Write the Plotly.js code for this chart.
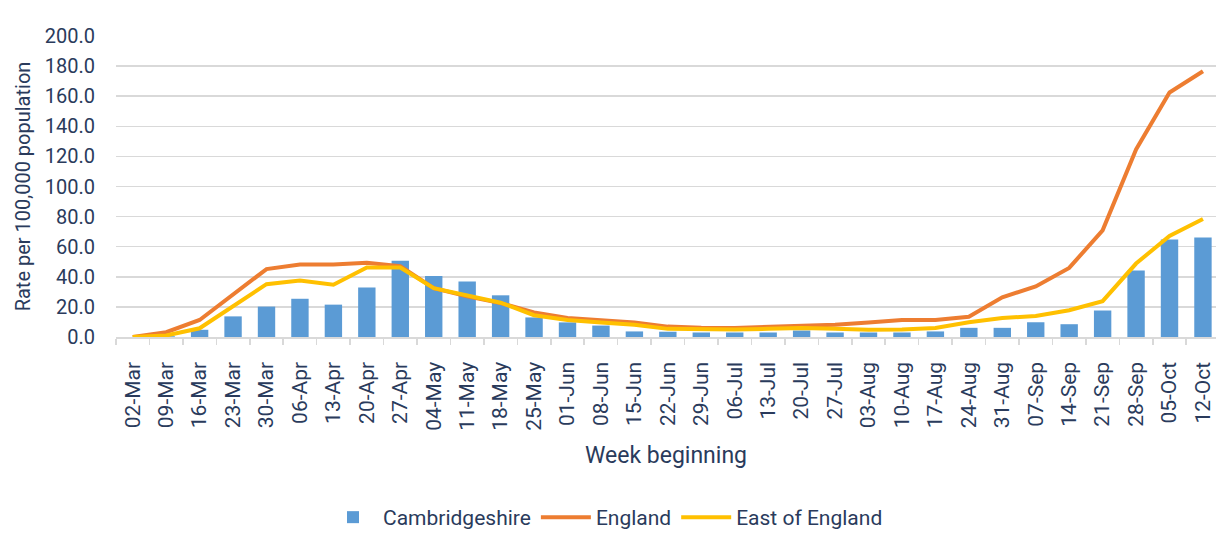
<!DOCTYPE html>
<html>
<head>
<meta charset="utf-8">
<script src="https://cdn.plot.ly/plotly-3.0.1.min.js"></script>
<style>html,body{margin:0;padding:0;background:#fff;}#chart{width:1216px;height:538px;}</style>
</head>
<body>
<div id="chart"></div>
<script>
const weeks = ['02-Mar','09-Mar','16-Mar','23-Mar','30-Mar','06-Apr','13-Apr','20-Apr','27-Apr','04-May','11-May','18-May','25-May','01-Jun','08-Jun','15-Jun','22-Jun','29-Jun','06-Jul','13-Jul','20-Jul','27-Jul','03-Aug','10-Aug','17-Aug','24-Aug','31-Aug','07-Sep','14-Sep','21-Sep','28-Sep','05-Oct','12-Oct'];
const cambridgeshire = [0,0.5,4.8,13.7,20.2,25.4,21.5,32.9,50.7,40.5,36.8,27.7,13.0,9.7,7.6,3.7,3.5,3.0,3.0,3.0,4.3,3.0,3.0,3.0,3.7,6.1,6.1,9.8,8.5,17.6,44.2,64.8,66.1];
const england = [0,3.2,11.3,28.2,45.1,48.1,48.1,49.4,47.0,32.5,27.0,22.5,16.3,12.6,11.3,9.7,6.9,6.1,6.0,6.9,7.2,8.2,9.7,11.3,11.3,13.4,26.4,33.6,45.9,70.9,124.6,162.5,176.6];
const eastOfEngland = [0,1.0,5.8,20.6,35.1,37.5,34.7,46.2,46.2,32.5,27.5,22.8,14.5,11.3,9.7,8.2,5.4,5.0,5.0,5.4,6.0,5.4,4.8,5.0,6.0,9.8,12.6,13.9,17.8,23.8,48.8,67.2,78.4];
const seriesNames = ['Cambridgeshire','England','East of England'];
const yTicks = [0,20,40,60,80,100,120,140,160,180,200];

const textColor = '#2a3b5c';
const fontFam = 'Roboto, "Open Sans", sans-serif';

const data = [
  {type:'bar', x:weeks, y:cambridgeshire, name:seriesNames[0], marker:{color:'#5b9bd5'}},
  {type:'scatter', mode:'lines', x:weeks, y:england, name:seriesNames[1], line:{color:'#ed7d31', width:4}},
  {type:'scatter', mode:'lines', x:weeks, y:eastOfEngland, name:seriesNames[2], line:{color:'#ffc000', width:4}}
];

const layout = {
  width:1216, height:538,
  margin:{l:116, r:0, t:36, b:194},
  paper_bgcolor:'#ffffff', plot_bgcolor:'#ffffff',
  font:{family:fontFam, color:textColor, size:20},
  bargap:0.48,
  showlegend:true,
  legend:{orientation:'h', x:0.445, xanchor:'center', y:-0.60, yanchor:'middle', font:{size:21, color:textColor}, traceorder:'normal', itemwidth:50},
  xaxis:{
    type:'category', range:[-0.5, 32.39], tickangle:-90,
    tickson:'boundaries', ticks:'outside', ticklen:6, tickcolor:'#d9d9d9', tickwidth:1.5,
    showline:true, linecolor:'#d9d9d9', linewidth:1.5, showgrid:false,
    ticklabelstandoff:15,
    tickfont:{size:21, color:textColor},
    title:{text:'Week beginning', font:{size:23, color:textColor}, standoff:17},
    automargin:false, fixedrange:true
  },
  yaxis:{
    range:[0,200], tickvals:yTicks, tickformat:'.1f',
    showgrid:true, gridcolor:'#d9d9d9', gridwidth:1.5, zeroline:false, showline:false, ticks:'',
    ticklabelstandoff:20,
    tickfont:{size:20, color:textColor},
    title:{text:'Rate per 100,000 population', font:{size:20, color:textColor}, standoff:8},
    automargin:false, fixedrange:true
  }
};

Plotly.newPlot('chart', data, layout, {displayModeBar:false, staticPlot:true});
</script>
</body>
</html>
